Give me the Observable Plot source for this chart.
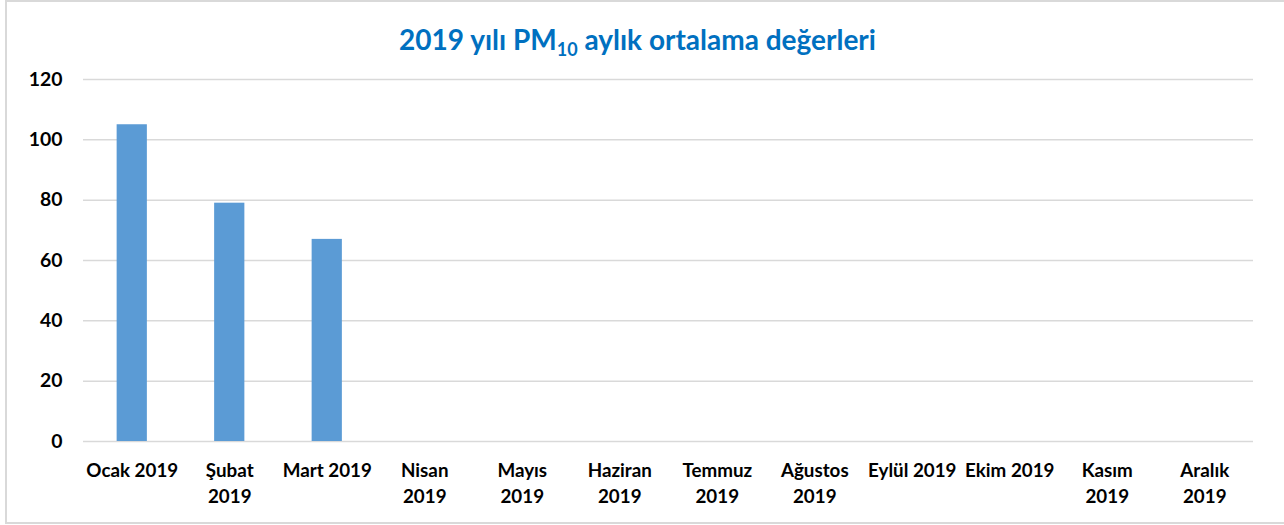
<!DOCTYPE html>
<html>
<head>
<meta charset="utf-8">
<script src="https://cdn.jsdelivr.net/npm/d3@7"></script>
<script src="https://cdn.jsdelivr.net/npm/@observablehq/plot@0.6"></script>
<style>
  html, body { margin: 0; padding: 0; background: #fff; }
  #wrap { position: relative; width: 1284px; height: 525px; overflow: hidden; font-family: Lato, "Open Sans", sans-serif; }
  #frame { position: absolute; left: 5px; top: 0px; width: 1300px; height: 524px; border: 2px solid #d9d9d9; box-sizing: border-box; pointer-events: none; }
  #title { height: 60px; line-height: 1; text-align: center; color: #0070C0; font-weight: bold; font-size: 28px; padding-right: 9px; box-sizing: border-box; padding-top: 25px; }
  #title sub { font-size: 18px; vertical-align: -6px; line-height: 0; }
  #chart svg { display: block; }
</style>
</head>
<body>
<div id="wrap">
  <div id="title">2019 yılı PM<sub>10</sub> aylık ortalama değerleri</div>
  <div id="chart"></div>
  <div id="frame"></div>
</div>
<script>
const months = ["Ocak 2019", "Şubat 2019", "Mart 2019", "Nisan 2019", "Mayıs 2019", "Haziran 2019", "Temmuz 2019", "Ağustos 2019", "Eylül 2019", "Ekim 2019", "Kasım 2019", "Aralık 2019"];
const tickLabels = ["Ocak 2019", "Şubat\n2019", "Mart 2019", "Nisan\n2019", "Mayıs\n2019", "Haziran\n2019", "Temmuz\n2019", "Ağustos\n2019", "Eylül 2019", "Ekim 2019", "Kasım\n2019", "Aralık\n2019"];
const pm10 = [105, 79, 67, null, null, null, null, null, null, null, null, null];
const yTicks = [0, 20, 40, 60, 80, 100, 120];

const data = months.map((m, i) => ({month: m, value: pm10[i]})).filter(d => d.value != null);
const labelOf = new Map(months.map((m, i) => [m, tickLabels[i]]));

const chart = Plot.plot({
  width: 1284,
  height: 465,
  marginLeft: 83,
  marginRight: 31,
  marginTop: 19,
  marginBottom: 84,
  style: {fontFamily: "Lato, 'Open Sans', sans-serif", background: "transparent"},
  x: {domain: months, paddingInner: 0.69, paddingOuter: 0.345, round: false, label: null},
  y: {domain: [0, 120], label: null},
  marks: [
    Plot.gridY(yTicks, {stroke: "#d9d9d9", strokeOpacity: 1, strokeWidth: 1.5}),
    Plot.barY(data, {x: "month", y: "value", fill: "#5B9BD5"}),
    Plot.axisY(yTicks, {tickSize: 0, tickPadding: 21, fontSize: 19.4, fontWeight: "bold", fill: "#000"}),
    Plot.axisX({tickSize: 0, tickPadding: 17, fontSize: 18.8, fontWeight: "bold", fill: "#000", lineHeight: 1.38, lineAnchor: "top", tickFormat: d => labelOf.get(d)})
  ]
});
document.getElementById("chart").appendChild(chart);
</script>
</body>
</html>
